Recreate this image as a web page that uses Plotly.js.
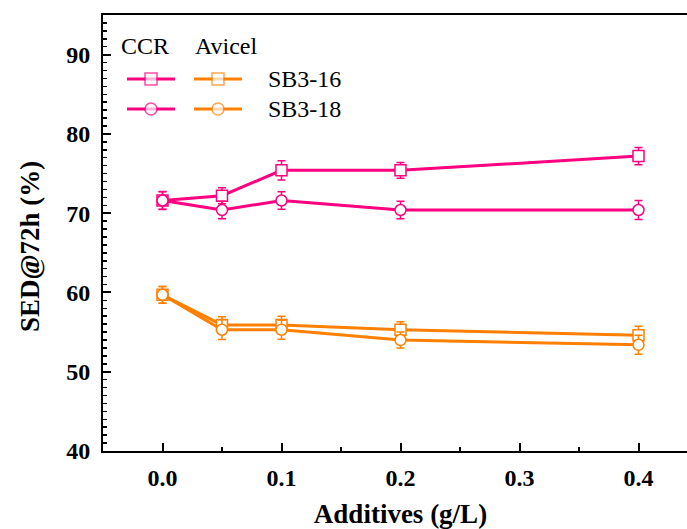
<!DOCTYPE html>
<html>
<head>
<meta charset="utf-8">
<script src="https://cdn.plot.ly/plotly-3.0.1.min.js"></script>
<style>
html,body{margin:0;padding:0;overflow:hidden;background:#fff;width:687px;height:529px;}
#chart{width:720px;height:529px;}
</style>
</head>
<body>
<div id="chart"></div>
<script>
// ---- data ----
const additives = [0, 0.05, 0.1, 0.2, 0.4];
const ccrSB316 = [71.6, 72.2, 75.4, 75.4, 77.2];
const ccrSB316Err = [1.1, 1.0, 1.2, 1.0, 1.1];
const ccrSB318 = [71.6, 70.4, 71.6, 70.4, 70.4];
const ccrSB318Err = [1.15, 1.1, 1.1, 1.1, 1.2];
const avSB316 = [59.7, 55.9, 55.9, 55.3, 54.6];
const avSB316Err = [1.05, 1.05, 1.1, 1.0, 1.15];
const avSB318 = [59.7, 55.3, 55.3, 54.0, 53.4];
const avSB318Err = [1.05, 1.25, 1.2, 1.0, 1.2];
const xTickVals = [0, 0.1, 0.2, 0.3, 0.4];
const xTickText = ['0.0', '0.1', '0.2', '0.3', '0.4'];
const yTickVals = [40, 50, 60, 70, 80, 90];
const materialHeaders = ['CCR', 'Avicel'];
const surfactants = ['SB3-16', 'SB3-18'];
const xTitle = 'Additives (g/L)';
const yTitle = 'SED@72h (%)';

const pink = 'rgb(255,0,128)';
const orange = 'rgb(255,128,0)';
const serif = 'Liberation Serif';

function series(y, err, color, symbol, name) {
  return {
    x: additives, y: y, name: name, type: 'scatter', mode: 'lines+markers',
    line: {color: color, width: 3},
    marker: {symbol: symbol, size: 11, color: 'white', line: {color: color, width: 1.5}},
    error_y: {type: 'data', array: err, visible: true, color: color, thickness: 1.5, width: 4},
    showlegend: false, cliponaxis: false
  };
}

const traces = [
  series(avSB316, avSB316Err, orange, 'square', 'Avicel SB3-16'),
  series(avSB318, avSB318Err, orange, 'circle', 'Avicel SB3-18'),
  series(ccrSB316, ccrSB316Err, pink, 'square', 'CCR SB3-16'),
  series(ccrSB318, ccrSB318Err, pink, 'circle', 'CCR SB3-18')
];

// ---- custom legend (on pixel-like overlay axes) ----
const legColors = [pink, orange];
const legCenters = [151, 218];
const legRows = [79, 109];
const legSymbols = ['square', 'circle'];
for (let c = 0; c < 2; c++) {
  for (let r = 0; r < 2; r++) {
    traces.push({
      x: [legCenters[c] - 24, legCenters[c], legCenters[c] + 24],
      y: [legRows[r], legRows[r], legRows[r]],
      xaxis: 'x2', yaxis: 'y2', type: 'scatter', mode: 'lines+markers',
      line: {color: legColors[c], width: 3},
      marker: {symbol: legSymbols[r], size: [0, 12, 0], color: 'white', line: {color: legColors[c], width: 1.5}},
      showlegend: false, hoverinfo: 'skip', cliponaxis: false
    });
  }
}

const annotations = [];
const headerX = [145, 226];
materialHeaders.forEach((h, i) => annotations.push({
  text: h, x: headerX[i], y: 46, xref: 'x2', yref: 'y2', showarrow: false,
  font: {family: serif, size: 24, color: '#000'}, xanchor: 'center', yanchor: 'middle'
}));
surfactants.forEach((s, i) => annotations.push({
  text: s, x: 266, y: legRows[i], xref: 'x2', yref: 'y2', showarrow: false,
  font: {family: serif, size: 24, color: '#000'}, xanchor: 'left', yanchor: 'middle'
}));
annotations.push({
  text: '<b>' + yTitle + '</b>', x: -0.1227, y: 0.470, xref: 'paper', yref: 'paper', showarrow: false,
  textangle: -90, font: {family: serif, size: 27, color: '#000'}, xanchor: 'center', yanchor: 'middle'
});

const layout = {
  width: 720, height: 529,
  margin: {l: 103, r: 22, t: 15, b: 78},
  paper_bgcolor: 'white', plot_bgcolor: 'white',
  font: {family: serif, color: '#000'},
  xaxis: {
    range: [-0.05, 0.45], tickvals: xTickVals, ticktext: xTickText,
    ticks: 'inside', ticklen: 8, tickwidth: 2, tickcolor: '#000',
    minor: {dtick: 0.05, ticks: 'inside', ticklen: 4, tickwidth: 2, tickcolor: '#000'},
    showline: true, linewidth: 2, linecolor: '#000', mirror: true,
    showgrid: false, zeroline: false,
    tickfont: {family: serif, size: 24, weight: 'bold'},
    ticklabelstandoff: 4,
    title: {text: '<b>' + xTitle + '</b>', font: {family: serif, size: 27}, standoff: 22}
  },
  yaxis: {
    range: [40, 95], tickvals: yTickVals,
    ticks: 'inside', ticklen: 8, tickwidth: 2, tickcolor: '#000',
    minor: {dtick: 1, ticks: 'inside', ticklen: 4, tickwidth: 1.5, tickcolor: '#000'},
    showline: true, linewidth: 2, linecolor: '#000', mirror: true,
    showgrid: false, zeroline: false,
    tickfont: {family: serif, size: 24, weight: 'bold'},
    ticklabelstandoff: 6
  },
  xaxis2: {overlaying: 'x', range: [103, 698], visible: false, fixedrange: true},
  yaxis2: {overlaying: 'y', range: [451, 15], visible: false, fixedrange: true},
  annotations: annotations,
  showlegend: false
};

Plotly.newPlot('chart', traces, layout, {displayModeBar: false, staticPlot: true});
</script>
</body>
</html>
